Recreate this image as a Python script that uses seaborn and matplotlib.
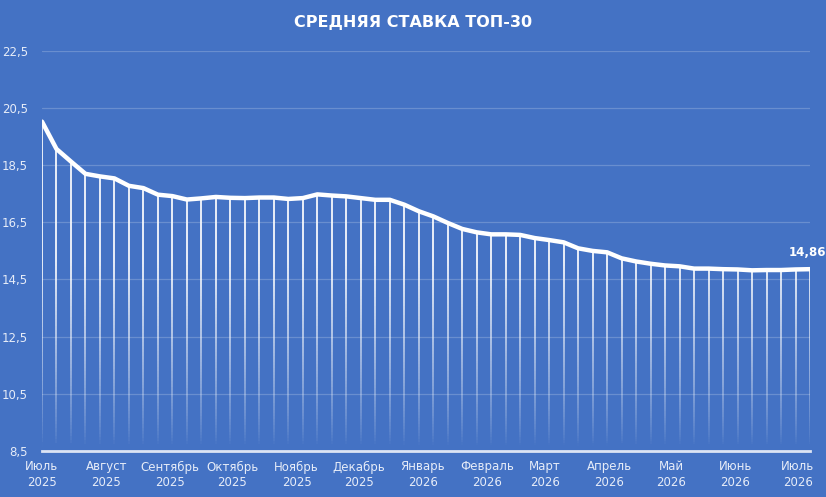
import numpy as np
import pandas as pd
import matplotlib
matplotlib.use("Agg")
import matplotlib.pyplot as plt
import matplotlib.dates as mdates
from matplotlib.collections import LineCollection
import seaborn as sns

# ---- data ----
start_date = "2025-07-01"
rates = [20.03, 19.07, 18.63, 18.20, 18.11, 18.04, 17.78, 17.70, 17.47, 17.42,
         17.30, 17.34, 17.39, 17.36, 17.35, 17.37, 17.37, 17.32, 17.35, 17.48,
         17.44, 17.41, 17.35, 17.29, 17.29, 17.12, 16.89, 16.71, 16.48, 16.27,
         16.15, 16.08, 16.08, 16.06, 15.95, 15.88, 15.80, 15.59, 15.50, 15.45,
         15.24, 15.13, 15.05, 14.99, 14.96, 14.88, 14.88, 14.86, 14.85, 14.82,
         14.83, 14.83, 14.85, 14.86]
dates = pd.date_range(start_date, periods=len(rates), freq="7D")
month_starts = ["2025-07-01", "2025-08-01", "2025-09-01", "2025-10-01", "2025-11-01",
                "2025-12-01", "2026-01-01", "2026-02-01", "2026-03-01", "2026-04-01",
                "2026-05-01", "2026-06-01", "2026-07-01"]
month_labels = ["Июль\n2025", "Август\n2025", "Сентябрь\n2025", "Октябрь\n2025",
                "Ноябрь\n2025", "Декабрь\n2025", "Январь\n2026", "Февраль\n2026",
                "Март\n2026", "Апрель\n2026", "Май\n2026", "Июнь\n2026", "Июль\n2026"]
y_ticks = [8.5, 10.5, 12.5, 14.5, 16.5, 18.5, 20.5, 22.5]
y_tick_labels = ["8,5", "10,5", "12,5", "14,5", "16,5", "18,5", "20,5", "22,5"]
title = "СРЕДНЯЯ СТАВКА ТОП-30"
last_label = "14,86"

df = pd.DataFrame({"date": dates, "rate": rates})

BG = "#4472C4"
sns.set_style("white", {"axes.facecolor": BG, "figure.facecolor": BG})
plt.rcParams["font.family"] = ["DejaVu Sans"]

fig = plt.figure(figsize=(8.26, 4.97), dpi=100)
fig.patch.set_facecolor(BG)
ax = fig.add_axes([42 / 826, 1 - 450.7 / 497, (810 - 42) / 826, (450.7 - 51.1) / 497])
ax.set_facecolor(BG)

ymin, ymax = 8.5, 22.5

# gridlines
for yt in y_ticks[1:]:
    ax.axhline(yt, color="white", alpha=0.2, lw=0.9, zorder=1)

# drop lines with fading gradient
xnum = mdates.date2num(df["date"])
segs, cols = [], []
nseg = 80
for xv, yv in zip(xnum, df["rate"]):
    ys = np.linspace(ymin, yv, nseg + 1)
    for i in range(nseg):
        segs.append([(xv, ys[i]), (xv, ys[i + 1])])
        ym = 0.5 * (ys[i] + ys[i + 1])
        a = np.clip((ym - 8.7) / 6.5, 0, 1) ** 0.8 * 0.95
        cols.append((1, 1, 1, a))
lc = LineCollection(segs, colors=cols, linewidths=1.3, zorder=2, capstyle="butt")
ax.add_collection(lc)

sns.lineplot(data=df, x="date", y="rate", ax=ax, color="white", lw=3.2,
             zorder=4, solid_joinstyle="round", solid_capstyle="round")

ax.set_xlim(df["date"].iloc[0], df["date"].iloc[-1])
ax.set_ylim(ymin, ymax)
ax.set_yticks(y_ticks)
ax.set_yticklabels(y_tick_labels)
ax.set_xticks(pd.to_datetime(month_starts))
ax.set_xticklabels(month_labels, linespacing=1.25)
ax.tick_params(axis="both", length=0, colors="#E6ECF8")
ax.tick_params(axis="y", labelsize=8.5, pad=10)
ax.tick_params(axis="x", labelsize=8.5, pad=7)
ax.set_xlabel("")
ax.set_ylabel("")
for s in ["top", "right", "left"]:
    ax.spines[s].set_visible(False)
ax.spines["bottom"].set_color("#DCE4F4")
ax.spines["bottom"].set_linewidth(2)
ax.spines["bottom"].set_zorder(5)

ax.annotate(last_label, (df["date"].iloc[-1], rates[-1]), xytext=(-2, 7),
            textcoords="offset points", ha="center", va="bottom",
            color="white", fontsize=8.5, fontweight="bold", zorder=6)

fig.text(413 / 826, 1 - 23 / 497, title, ha="center", va="center",
         color="white", fontsize=11.5, fontweight="bold")

fig.savefig("out.png", dpi=100, facecolor=BG)
